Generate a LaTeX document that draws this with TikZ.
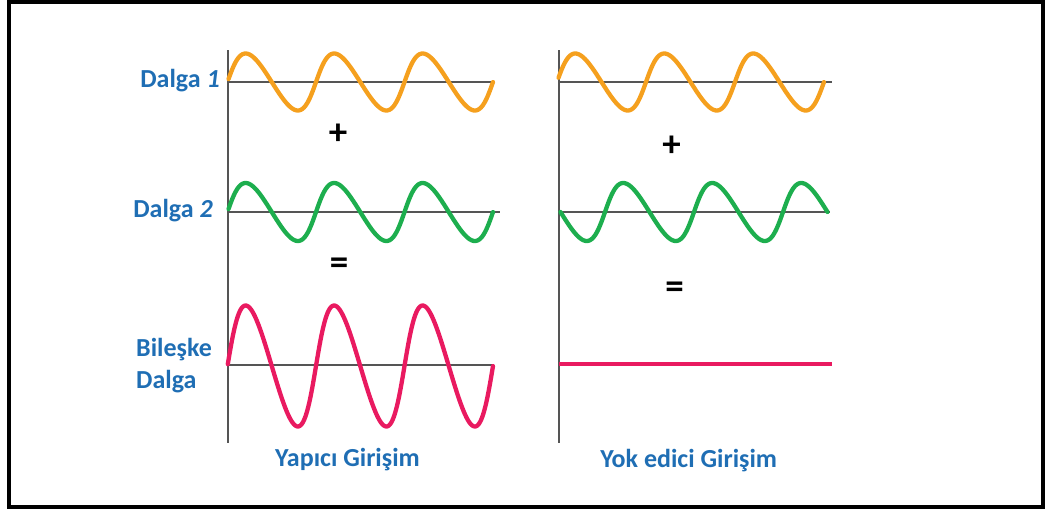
\documentclass[tikz,border=0pt]{standalone}
\usepackage{fontspec}
\setmainfont{Carlito}
\definecolor{wOrange}{HTML}{F5A01E}
\definecolor{wGreen}{HTML}{1DAE4E}
\definecolor{wPink}{HTML}{E91A60}
\definecolor{lblBlue}{HTML}{1F6EB4}
\definecolor{axisGray}{HTML}{555555}
\begin{document}
\begin{tikzpicture}[x=1pt,y=-1pt,
  axisline/.style={draw=axisGray, line width=1.8pt},
  wave/.style={line width=4.3pt, line cap=round, line join=round},
  lbl/.style={font=\fontsize{26}{31.6}\selectfont\bfseries, text=lblBlue, inner sep=0pt},
  opsym/.style={font=\fontsize{37}{37}\selectfont\bfseries, inner sep=0pt}]
\useasboundingbox (0,0) rectangle (1045,509);
\draw[line width=4pt] (8.7,1.8) rectangle (1043.2,506.5);
% axes left
\draw[axisline] (228,50) -- (228,443);
\draw[axisline] (228,82) -- (495,82);
\draw[axisline] (228,212) -- (500,212);
\draw[axisline] (228,365) -- (493,365);
% axes right
\draw[axisline] (559,50) -- (559,443);
\draw[axisline] (559,82) -- (832,82);
\draw[axisline] (559,212) -- (830,212);
% waves left
\draw[wave, wOrange] plot[domain=0.1:6*pi, samples=240, variable=\t]
  ({227.5+88.5*\t/(2*pi)-4*sin(\t r)}, {82-28.5*sin(\t r)});
\draw[wave, wGreen] plot[domain=0.1:6*pi, samples=240, variable=\t]
  ({227.5+88.5*\t/(2*pi)-4*sin(\t r)}, {212-29*sin(\t r)});
\draw[wave, wPink] plot[domain=0.03:6*pi, samples=240, variable=\t]
  ({227.5+88.5*\t/(2*pi)-4*sin(\t r)}, {366-60.5*sin(\t r)});
% waves right
\draw[wave, wOrange] plot[domain=0.15:6*pi, samples=240, variable=\t]
  ({557+89*\t/(2*pi)-4*sin(\t r)}, {82-28.5*sin(\t r)});
\draw[wave, wGreen] plot[domain=0:6*pi, samples=240, variable=\t]
  ({560.5+89*\t/(2*pi)+4*sin(\t r)}, {212+29*sin(\t r)});
\draw[wave, wPink, line cap=butt] (559,364) -- (832,364);
% labels
\node[lbl, anchor=base] (d1) at (180,87.3) {Dalga \textit{1}};
\node[lbl, anchor=base] (d2) at (173,217.3) {Dalga \textit{2}};
\node[lbl, anchor=base west] (b1) at (136,356.7) {Bileşke};
\node[lbl, anchor=base west] (b2) at (136,388.3) {Dalga};
\node[lbl, anchor=base] (yap) at (347.5,466.7) {Yapıcı Girişim};
\node[lbl, anchor=base] (yok) at (688.7,467) {Yok edici Girişim};
% operators
\node[opsym] (plusL) at (338,134) {+};
\node[opsym] (plusR) at (671.5,146.7) {+};
\node[opsym] (eqL) at (339,266) {=};
\node[opsym] (eqR) at (674.5,290) {=};
\end{tikzpicture}
\end{document}
